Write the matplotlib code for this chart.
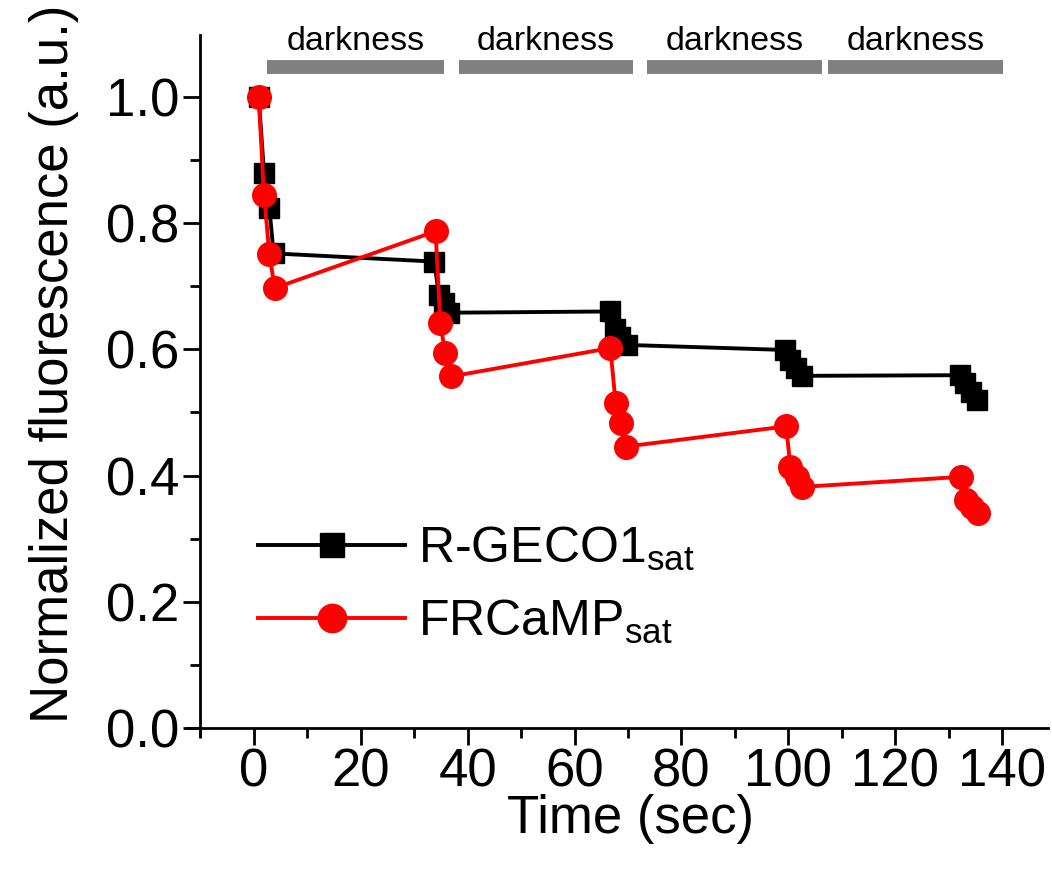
import matplotlib
matplotlib.use('Agg')
import matplotlib.pyplot as plt
from matplotlib.ticker import MultipleLocator

plt.rcParams['font.family'] = ['Liberation Sans', 'DejaVu Sans']
plt.rcParams['mathtext.fontset'] = 'custom'
plt.rcParams['mathtext.rm'] = 'Liberation Sans'

# Time points (sec)
t_rgeco = [0.9, 1.9, 2.9, 3.7, 33.8, 34.6, 35.6, 36.6,
           66.7, 67.6, 68.5, 69.8, 99.4, 100.3, 101.4, 102.5,
           132.1, 133.0, 134.2, 135.4]
f_rgeco = [1.0, 0.880, 0.824, 0.752, 0.739, 0.686, 0.673, 0.658,
           0.660, 0.633, 0.620, 0.607, 0.599, 0.583, 0.570, 0.558,
           0.559, 0.546, 0.533, 0.519]

t_frcamp = [0.9, 1.9, 2.9, 3.9, 34.0, 34.9, 35.8, 36.9,
            66.7, 67.7, 68.7, 69.7, 99.6, 100.4, 101.6, 102.5,
            132.4, 133.3, 134.3, 135.5]
f_frcamp = [1.0, 0.845, 0.751, 0.697, 0.787, 0.641, 0.594, 0.557,
            0.602, 0.515, 0.483, 0.446, 0.478, 0.414, 0.398, 0.382,
            0.398, 0.361, 0.351, 0.340]

# Darkness periods
dark_start = [2.5, 38.3, 73.5, 107.5]
dark_end = [35.5, 71.0, 106.4, 140.2]
dark_label = 'darkness'

fig = plt.figure(figsize=(10.52, 8.77), dpi=100)
ax = fig.add_axes([0.1778, 0.1612, 0.8184, 0.7989])

ax.plot(t_rgeco, f_rgeco, color='black', lw=2.8, marker='s', ms=14,
        label=r'R-GECO1$_{\rm sat}$', zorder=3)
ax.plot(t_frcamp, f_frcamp, color='red', lw=2.8, marker='o', ms=17,
        label=r'FRCaMP$_{\rm sat}$', zorder=4)

ax.hlines([1.048] * len(dark_start), dark_start, dark_end, color='#808080',
          lw=10, clip_on=False)
for s, e in zip(dark_start, dark_end):
    ax.text((s + e) / 2, 1.088, dark_label, ha='center', va='center',
            fontsize=24.5, clip_on=False)

ax.set_xlim(-12.5, 148.6)
ax.set_ylim(-0.012, 1.098)
ax.spines['left'].set_position(('data', -10))
ax.spines['bottom'].set_position(('data', 0))
ax.spines['top'].set_visible(False)
ax.spines['right'].set_visible(False)
for sp in ['left', 'bottom']:
    ax.spines[sp].set_linewidth(2)

ax.xaxis.set_major_locator(MultipleLocator(20))
ax.xaxis.set_minor_locator(MultipleLocator(10))
ax.yaxis.set_major_locator(MultipleLocator(0.2))
ax.yaxis.set_minor_locator(MultipleLocator(0.1))
ax.set_xticks(range(0, 141, 20))
ax.set_yticks([0.0, 0.2, 0.4, 0.6, 0.8, 1.0])
ax.set_yticklabels(['0.0', '0.2', '0.4', '0.6', '0.8', '1.0'])
ax.tick_params(which='major', direction='out', length=12, width=2,
               labelsize=38)
ax.tick_params(axis='x', which='major', pad=2)
ax.tick_params(which='minor', direction='out', length=7, width=2)

ax.set_xlabel('Time (sec)', fontsize=38)
ax.set_ylabel('Normalized fluorescence (a.u.)', fontsize=38)
ax.xaxis.set_label_coords(0.5145, -0.084)
ax.yaxis.set_label_coords(-0.125, 0.53)

leg = ax.legend(loc='upper left', bbox_to_anchor=(258 / 1052, 0.402),
                bbox_transform=fig.transFigure, frameon=False,
                fontsize=36, handlelength=2.94, handletextpad=0.26,
                labelspacing=0.5, borderpad=0, borderaxespad=0,
                markerscale=1.2)

fig.savefig('out.png', dpi=100)
